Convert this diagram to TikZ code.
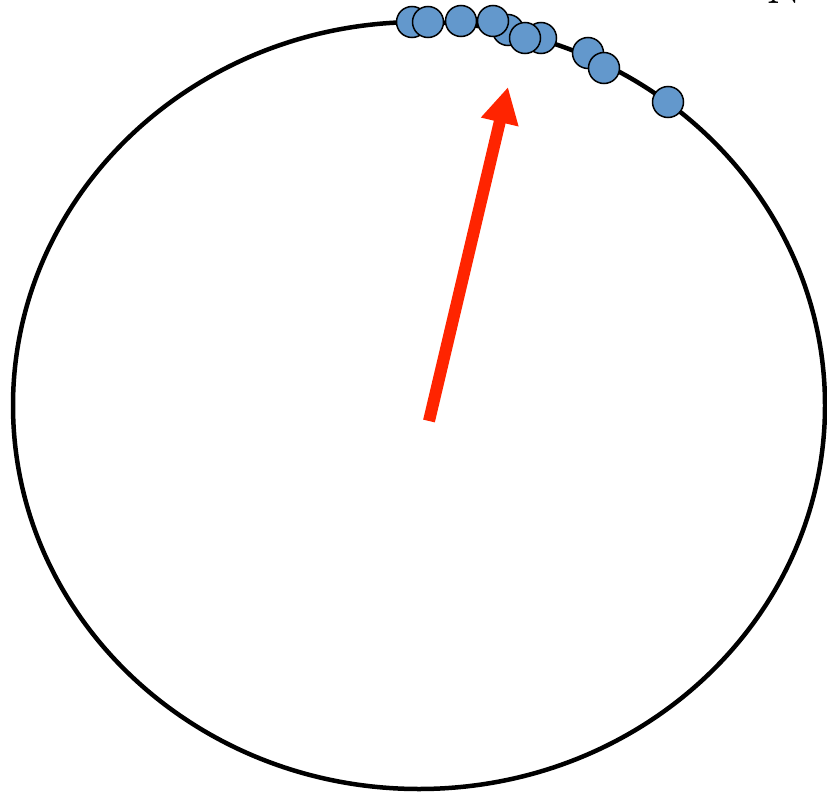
\documentclass[tikz,border=0pt]{standalone}
\usetikzlibrary{arrows.meta}
\definecolor{dotblue}{RGB}{99,152,204}
\definecolor{arrowred}{RGB}{255,36,0}
\tikzset{
  sample/.style={circle,draw=black,line width=1.5pt,fill=dotblue,minimum size=31pt,inner sep=0pt},
}
\begin{document}
\begin{tikzpicture}[x=1pt,y=-1pt]
	\useasboundingbox (0,0) rectangle (827,795);
	\draw[line width=4.5pt] (419,405.5) ellipse [x radius=406, y radius=383.5];
	\foreach \n/\x/\y in {1/412/22,2/428/22,3/461/21,4/508/30,5/493/21,6/541/38,7/525/38,8/588/53,9/604/68,10/668/102} {
		\node[sample] (dot\n) at (\x,\y) {};
	};
	\coordinate (tail) at (429,421);
	\coordinate (tip) at (508,87);
	\draw[arrowred,line width=12pt,-{Triangle[length=36pt,width=36pt]}] (tail) -- (tip);
	\node[anchor=base west,inner sep=0pt,font=\fontsize{52}{60}\selectfont] (label) at (766,3) {N};
\end{tikzpicture}
\end{document}
